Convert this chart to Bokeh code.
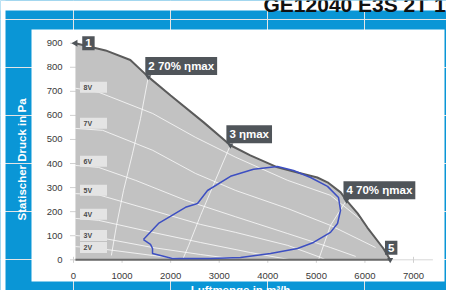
import math
from bokeh.plotting import figure
from bokeh.models import Range1d
from bokeh.core.properties import value
from bokeh.embed import file_html
from bokeh.resources import INLINE

# ---------------- data ----------------
x_ticks = [0, 1000, 2000, 3000, 4000, 5000, 6000, 7000]
x_tick_labels = ["0", "1000", "2000", "3000", "4000", "5000", "6000", "7000"]
y_ticks = [0, 100, 200, 300, 400, 500, 600, 700, 800, 900]
y_tick_labels = ["0", "100", "200", "300", "400", "500", "600", "700", "800", "900"]

# maximum fan curve (operating field boundary), m3/h vs Pa
curve_q = [40, 660, 1170, 1540, 2000, 2680, 3230, 3640, 4200, 4610, 5020, 5230, 5500, 5620, 5850, 6050, 6380, 6520]
curve_p = [900, 870, 830, 760, 683, 571, 476, 434, 384, 363, 342, 322, 280, 247, 193, 134, 47, 0]

# marked operating points
tag_text = ["1", "2 70% \u03b7max", "3 \u03b7max", "4 70% \u03b7max", "5"]
tag_q = [40, 1540, 3230, 5620, 6520]
tag_p = [900, 760, 476, 247, 0]

# control-voltage curves
volt_names = ["8V", "7V", "6V", "5V", "4V", "3V", "2V"]
volt_label_p = [717, 567, 410, 289, 189, 101, 51]
v8_q = [40, 520, 1630, 2510, 3340, 4410, 5290, 5910]
v8_p = [713, 696, 608, 509, 426, 330, 268, 168]
v7_q = [40, 600, 1630, 2510, 3340, 4410, 5290, 6220]
v7_p = [546, 538, 455, 359, 288, 213, 143, 51]
v6_q = [40, 515, 1280, 2310, 3335, 4410, 5290, 5810]
v6_p = [392, 384, 330, 247, 179, 109, 51, 14]
v5_q = [40, 515, 1630, 2615, 3335, 4410, 5085, 5190]
v5_p = [275, 270, 205, 147, 114, 60, 10, 0]
v4_q = [40, 515, 1630, 2615, 3645, 4470]
v4_p = [172, 164, 114, 72, 30, 0]
v3_q = [40, 515, 1630, 2615, 3440]
v3_p = [101, 93, 51, 22, 0]
v2_q = [40, 515, 1630, 2410]
v2_p = [55, 47, 18, 0]

# system (efficiency) lines through points 2, 3, 4
sysA_q = [1540, 1380, 1215, 1030, 885, 780]
sysA_p = [760, 587, 441, 288, 143, 18]
sysB_q = [3230, 2920, 2615, 2370, 2245]
sysB_p = [476, 330, 184, 59, 0]
sysC_q = [5620, 5290, 5045]
sysC_p = [247, 142, 0]

# blue loop
loop_q = [1440, 1750, 2306, 2553, 2759, 3232, 3706, 4200, 4530, 4880, 5230, 5456, 5497, 5436,
          5291, 4941, 4612, 4056, 3438, 2821, 2038, 1627, 1627, 1585, 1440]
loop_p = [84, 151, 218, 234, 288, 347, 376, 388, 371, 342, 305, 259, 205, 151,
          114, 72, 47, 26, 10, 5, 5, 26, 47, 64, 84]

chart_title = "GE12040 E3S 2T 10"

# ---------------- layout ----------------
W, H = 446, 290
SX = 340.0 / 7000.0      # px per m3/h
SY = 216.6 / 900.0       # px per Pa
X0 = 73.0                # canvas px of Q=0
Y0 = 259.3               # canvas px of P=0
XMIN, XMAX = (0 - X0) / SX, (W - X0) / SX
YMIN, YMAX = (Y0 - H) / SY, Y0 / SY


def qx(px):
    return (px - X0) / SX


def py(px):
    return (Y0 - px) / SY


BLUE = "#0a96d6"
FONT = value("Liberation Sans")

p = figure(width=W, height=H, x_range=Range1d(XMIN, XMAX), y_range=Range1d(YMIN, YMAX),
           output_backend="svg", toolbar_location=None,
           x_axis_location=None, y_axis_location=None, min_border=0)
p.outline_line_color = None
p.background_fill_color = BLUE
p.border_fill_color = "white"

# white strips outside the blue frame and the white chart panel
p.quad(left=[XMIN, XMIN], right=[qx(5), XMAX], bottom=[YMIN, py(10)], top=[YMAX, YMAX],
       fill_color="white", line_color=None)
p.quad(left=[qx(31)], right=[qx(444)], bottom=[py(281)], top=[py(29)],
       fill_color="white", line_color=None)

# page title (cut by the top edge, as in the original)
p.text(x=[qx(263)], y=[py(4)], text=[chart_title], text_font=FONT, text_font_style="bold",
       text_font_size="21px", text_color="#111111", text_align="left",
       text_baseline="alphabetic")

# axis baseline and small ticks
p.line([0, 7400], [0, 0], line_color="#d8d8d8", line_width=1)
p.scatter(x=[0] * len(y_ticks), y=y_ticks, marker="dash", size=7, line_color="#d0d0d0")
p.scatter(x=x_ticks, y=[0] * len(x_ticks), marker="dash", angle=math.pi / 2, size=6,
          line_color="#d0d0d0")

# operating field
p.patch(curve_q + [curve_q[0]], curve_p + [0], fill_color="#c2c2c2", line_color=None)

# white curves
for qs, ps in [(v8_q, v8_p), (v7_q, v7_p), (v6_q, v6_p), (v5_q, v5_p), (v4_q, v4_p),
               (v3_q, v3_p), (v2_q, v2_p), (sysA_q, sysA_p), (sysB_q, sysB_p), (sysC_q, sysC_p)]:
    p.line(qs, ps, line_color="white", line_alpha=0.75, line_width=1)

# boundary outline
p.line(curve_q, curve_p, line_color="#5b5b5b", line_width=2)
p.line([curve_q[0], curve_q[-1]], [0, 0], line_color="#6a6a6a", line_width=2)

# blue loop
p.line(loop_q, loop_p, line_color="#3d4fc2", line_width=1.5)

# voltage labels
p.rect(x=[qx(93)] * len(volt_names), y=volt_label_p, width=27, height=11,
       width_units="screen", height_units="screen", fill_color="#e4e4e4", line_color=None)
p.text(x=[qx(83)] * len(volt_names), y=volt_label_p, text=volt_names, text_font=FONT,
       text_font_style="bold", text_font_size="7px", text_color="#4a4a4a",
       text_align="left", text_baseline="middle")

# tick labels
p.text(x=x_ticks, y=[0] * len(x_ticks), text=x_tick_labels, y_offset=16, text_font=FONT,
       text_font_size="9.5px", text_color="#3a3a3a", text_align="center", text_baseline="middle")
p.text(x=[0] * len(y_ticks), y=y_ticks, text=y_tick_labels, x_offset=-11, text_font=FONT,
       text_font_size="9.5px", text_color="#3a3a3a", text_align="right", text_baseline="middle")

# tag pointers and boxes
TAG = "#50555a"
p.scatter(x=tag_q[1:], y=tag_p[1:], marker="inverted_triangle", size=6, fill_color=TAG, line_color=None)
p.scatter(x=tag_q[:1], y=tag_p[:1], marker="triangle", angle=math.pi / 2, size=7,
          fill_color=TAG, line_color=None)
tag_style = dict(text_font=FONT, text_font_style="bold", text_font_size="11.5px",
                 text_color="white", text_baseline="middle",
                 background_fill_color=TAG, padding=3)
p.text(x=[tag_q[0]], y=[tag_p[0]], text=[tag_text[0]], x_offset=13, y_offset=0,
       text_align="center", **tag_style)
p.text(x=[tag_q[4]], y=[tag_p[4]], text=[tag_text[4]], x_offset=1, y_offset=-12,
       text_align="center", **tag_style)
p.text(x=tag_q[1:4], y=tag_p[1:4], text=tag_text[1:4], x_offset=[-3, -4, -3],
       y_offset=[-11, -11, -10], text_align="left", **tag_style)

# axis titles
p.text(x=[qx(21)], y=[py(159)], text=["Statischer Druck in Pa"], angle=math.pi / 2,
       text_font=FONT, text_font_style="bold", text_font_size="11.5px", text_color="white",
       text_align="center", text_baseline="middle")
p.text(x=[qx(240)], y=[py(283)], text=["Luftmenge in m\u00b3/h"],
       text_font=FONT, text_font_style="bold", text_font_size="11.5px", text_color="white",
       text_align="center", text_baseline="top")

open("out.html", "w").write(file_html(p, INLINE))
